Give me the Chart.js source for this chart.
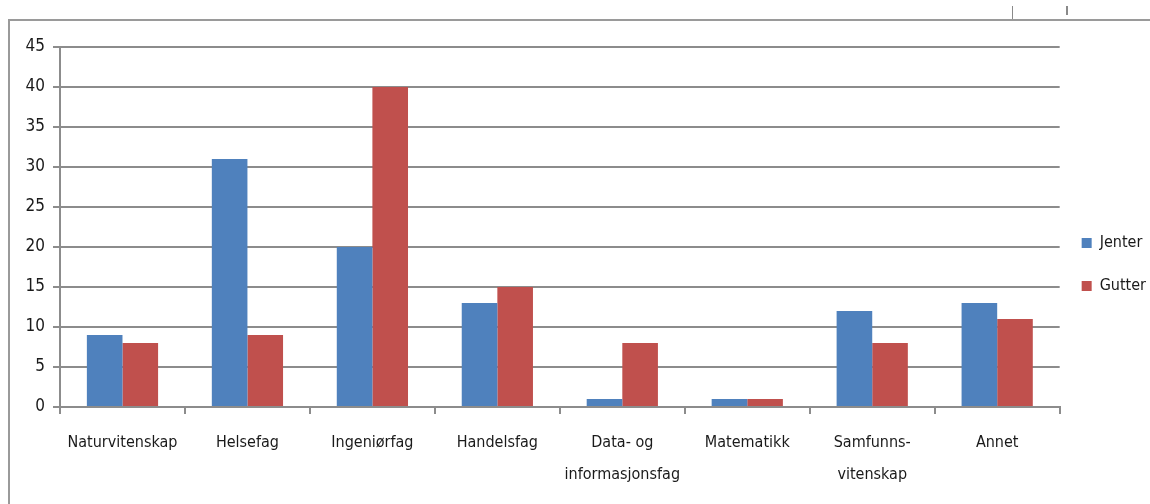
<!DOCTYPE html>
<html>
<head>
<meta charset="utf-8">
<script src="https://cdn.jsdelivr.net/npm/chart.js@4.4.1/dist/chart.umd.min.js"></script>
<style>
  html, body { margin: 0; padding: 0; background: #fff; }
  #wrap { position: relative; width: 1150px; height: 504px; overflow: hidden; }
  #frame { position: absolute; left: 8px; top: 19px; width: 1150px; height: 500px;
           border-left: 2px solid #9a9a9a; border-top: 2px solid #9a9a9a; }
  .mark { position: absolute; width: 1px; background: #8a8a8a; }
  #chartBox { position: absolute; left: 0; top: 0; width: 1150px; height: 504px; }
</style>
</head>
<body>
<div id="wrap">
  <div class="mark" style="left:1012px; top:6px; height:14px;"></div>
  <div class="mark" style="left:1066px; top:6px; height:9px; width:2px;"></div>
  <div id="frame"></div>
  <div id="chartBox"><canvas id="mycanvas"></canvas></div>
</div>
<script>
var fag = ["Naturvitenskap", "Helsefag", "Ingeniørfag", "Handelsfag",
           ["Data- og", "informasjonsfag"], "Matematikk", ["Samfunns-", "vitenskap"], "Annet"];
var jenter = [9, 31, 20, 13, 1, 1, 12, 13];
var gutter = [8, 9, 40, 15, 8, 1, 8, 11];
var yTicks = [0, 5, 10, 15, 20, 25, 30, 35, 40, 45];

var fontFam = "'Liberation Sans Narrow', 'DejaVu Sans Condensed', 'Liberation Sans', sans-serif";
var gridGray = "#8c8c8c";

Chart.defaults.font.family = fontFam;
Chart.defaults.color = "#1a1a1a";

// nudge the legend up and a bit left so "Gutter" fits
var legendShift = {
  id: "legendShift",
  afterLayout: function(chart) {
    var lg = chart.legend;
    if (!lg) return;
    lg.top -= 11;
    lg.bottom -= 11;
    lg.left -= 5;
    lg.right -= 5;
  }
};

var ctx = document.getElementById("mycanvas");
var chart = new Chart(ctx, {
  type: "bar",
  data: {
    labels: fag,
    datasets: [
      { label: "Jenter", data: jenter, backgroundColor: "#4f81bd", borderWidth: 0,
        categoryPercentage: 0.57, barPercentage: 1.0 },
      { label: "Gutter", data: gutter, backgroundColor: "#c0504d", borderWidth: 0,
        categoryPercentage: 0.57, barPercentage: 1.0 }
    ]
  },
  plugins: [legendShift],
  options: {
    responsive: true,
    maintainAspectRatio: false,
    animation: { duration: 0 },
    layout: { padding: { left: 20, top: 47, right: -11, bottom: 0 } },
    plugins: {
      tooltip: { enabled: false },
      legend: {
        position: "right",
        labels: {
          boxWidth: 10, boxHeight: 10, padding: 27,
          font: { size: 16 }, color: "#1a1a1a"
        }
      }
    },
    scales: {
      x: {
        grid: { drawOnChartArea: false, drawTicks: true, tickLength: 7,
                color: gridGray, lineWidth: 2, offset: true },
        border: { color: gridGray, width: 2 },
        ticks: { font: { size: 16, lineHeight: 2 }, color: "#1a1a1a", padding: 13,
                 maxRotation: 0, autoSkip: false },
        afterFit: function(scale) { scale.height = 97; }
      },
      y: {
        min: 0, max: 45,
        afterBuildTicks: function(scale) {
          scale.ticks = yTicks.map(function(v) { return { value: v }; });
        },
        grid: { color: gridGray, lineWidth: 2, drawTicks: true, tickLength: 7 },
        border: { color: gridGray, width: 2 },
        ticks: { font: { size: 17 }, color: "#1a1a1a", padding: 8 },
        afterFit: function(scale) { scale.width = 40; }
      }
    }
  }
});
</script>
</body>
</html>
